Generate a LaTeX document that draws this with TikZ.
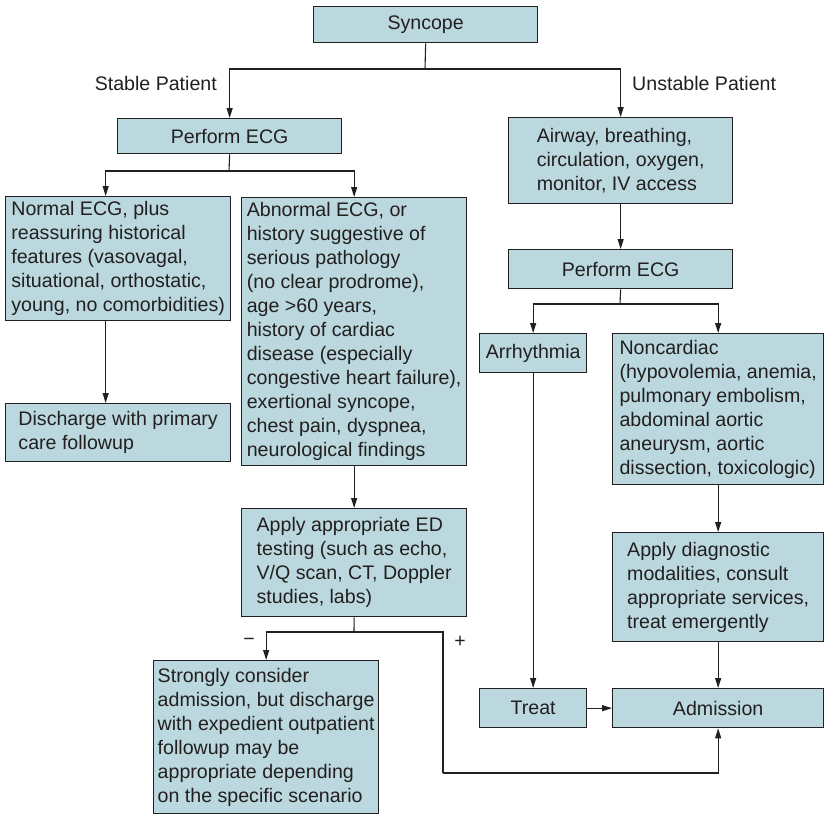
\documentclass[tikz,border=0pt]{standalone}
\usepackage{fontspec}
\setmainfont{Liberation Sans}
\usetikzlibrary{arrows.meta}
\definecolor{boxfill}{RGB}{186,216,222}
\definecolor{inkgray}{RGB}{35,31,32}
\tikzset{
  box/.style={draw=inkgray, fill=boxfill, line width=1.3pt, anchor=north west,
    align=left, inner sep=3pt, text=inkgray},
  flow/.style={draw=inkgray, line width=1.1pt, -{Triangle[length=10pt,width=6pt]}},
  link/.style={draw=inkgray, line width=1.1pt},
  tag/.style={inner sep=0pt}
}
\begin{document}
\begin{tikzpicture}[x=1pt, y=-1pt, font=\fontsize{19.6}{24}\selectfont, text=inkgray]
\useasboundingbox (0,0) rectangle (824,815);
%TOP
  \node (syn) at (313,6) [box, align=center, minimum width=224pt, minimum height=36pt] {Syncope};
  \coordinate (jtop) at (425,69);
  \node (stab) at (217,83) [tag, anchor=east] {Stable Patient};
  \node (unstab) at (632,83) [tag, anchor=west] {Unstable Patient};

%STABLE PATIENT
  \node (ecgL) at (117,118) [box, align=center, minimum width=224pt, minimum height=35pt] {Perform ECG};
  \coordinate (jL) at (229,171);
  \node (normal) at (5,196) [box, minimum width=225pt, minimum height=124pt] {Normal ECG, plus\\reassuring historical\\features (vasovagal,\\situational, orthostatic,\\young, no comorbidities)};
  \node (abnormal) at (241,197) [box, minimum width=225pt, minimum height=268pt] {Abnormal ECG, or\\history suggestive of\\serious pathology\\(no clear prodrome),\\age >60 years,\\history of cardiac\\disease (especially\\congestive heart failure),\\exertional syncope,\\chest pain, dyspnea,\\neurological findings};
  \node (disch) at (5,403) [box, minimum width=225pt, minimum height=58pt] {Discharge with primary\\care followup};
  \node (applyED) at (241,508) [box, minimum width=225pt, minimum height=108pt] {Apply appropriate ED\\testing (such as echo,\\V/Q scan, CT, Doppler\\studies, labs)};
  \coordinate (jED) at (354,632);
  \node (neg) at (249,642) [tag] {−};
  \node (pos) at (460,642) [tag] {+};
  \node (strong) at (153,660) [box, minimum width=225pt, minimum height=153pt] {Strongly consider\\admission, but discharge\\with expedient outpatient\\followup may be\\appropriate depending\\on the specific scenario};
  \coordinate (jPos) at (443,773);

%UNSTABLE PATIENT
  \node (abc) at (508,117) [box, minimum width=224pt, minimum height=86pt] {Airway, breathing,\\circulation, oxygen,\\monitor, IV access};
  \node (ecgR) at (508,249) [box, align=center, minimum width=224pt, minimum height=39pt] {Perform ECG};
  \coordinate (jR) at (620,304);
  \node (arrh) at (479,333) [box, align=center, minimum width=107pt, minimum height=39pt] {Arrhythmia};
  \node (noncard) at (612,333) [box, minimum width=211pt, minimum height=151pt] {Noncardiac\\(hypovolemia, anemia,\\pulmonary embolism,\\abdominal aortic\\aneurysm, aortic\\dissection, toxicologic)};
  \node (applyDx) at (612,532) [box, minimum width=211pt, minimum height=109pt] {Apply diagnostic\\modalities, consult\\appropriate services,\\treat emergently};
  \node (treat) at (479,688) [box, align=center, minimum width=107pt, minimum height=39pt] {Treat};
  \node (admit) at (612,688) [box, align=center, minimum width=211pt, minimum height=39pt] {Admission};

%CONNECTORS
  \draw[link] (syn.south) -- (jtop);
  \draw[flow] (jtop) -| (ecgL.north);
  \draw[flow] (jtop) -| (abc.north);
  \draw[link] (ecgL.south) -- (jL);
  \draw[flow] (jL) -| ([xshift=-12.5pt]normal.north);
  \draw[flow] (jL) -| (abnormal.north);
  \draw[flow] ([xshift=-12.5pt]normal.south) -- ([xshift=-12.5pt]disch.north);
  \draw[flow] (abnormal.south) -- (applyED.north);
  \draw[link] (applyED.south) -- (jED);
  \draw[flow] (jED) -| (strong.north);
  \draw[link] (jED) -| (jPos);
  \draw[flow] (jPos) -| (admit.south);
  \draw[flow] (abc.south) -- (ecgR.north);
  \draw[link] (ecgR.south) -- (jR);
  \draw[flow] (jR) -| (arrh.north);
  \draw[flow] (jR) -| (noncard.north);
  \draw[flow] (arrh.south) -- (treat.north);
  \draw[flow] (noncard.south) -- (applyDx.north);
  \draw[flow] (applyDx.south) -- (admit.north);
  \draw[flow] (treat.east) -- (admit.west);
\end{tikzpicture}
\end{document}
